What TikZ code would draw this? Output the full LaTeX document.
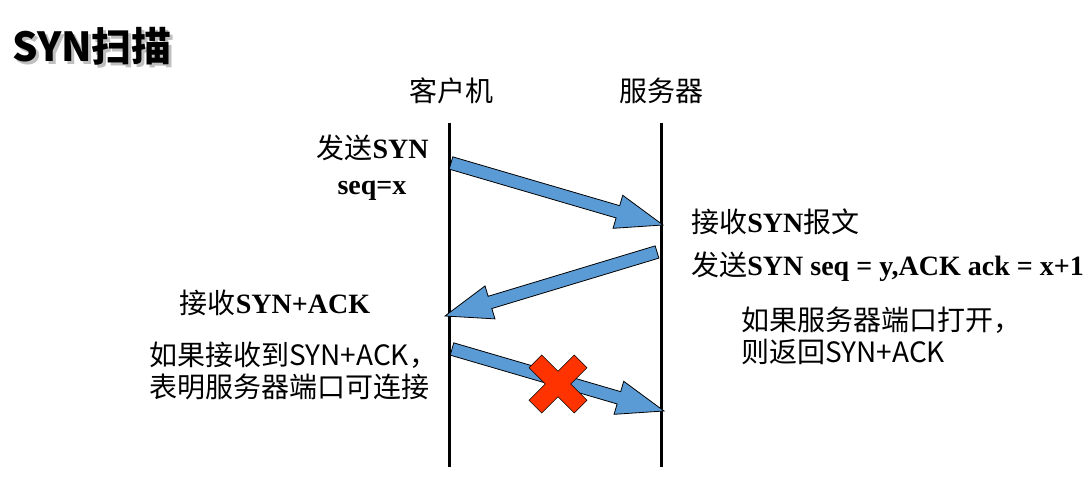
\documentclass[tikz,border=0pt]{standalone}
\usepackage{fontspec}
\setmainfont{Liberation Serif}
\newfontfamily\cjk{Noto Sans CJK SC}
\usetikzlibrary{calc}

\definecolor{msgblue}{HTML}{5B9BD5}
\definecolor{stopred}{HTML}{FF3300}

\tikzset{
  lbl/.style={inner sep=0pt, font=\fontsize{14}{16}\selectfont},
  headline/.style={inner sep=0pt, anchor=west, font=\cjk\bfseries\fontsize{20}{24}\selectfont},
  lifeline/.style={line width=1.5pt},
  msg/.style={draw=black, fill=msgblue, line width=0.4pt, line join=miter},
  xmark/.style={draw=black, fill=stopred, line width=0.3pt, line join=miter}
}

% block arrow from #1 to #2
\newcommand\msgarrow[2]{%
  \coordinate (hb) at ($(#2)!23.5pt!(#1)$);
  \draw[msg] ($(#1)!3.2pt!90:(#2)$) -- ($(hb)!3.2pt!90:(#2)$) -- ($(hb)!8.6pt!90:(#2)$) -- (#2)
    -- ($(hb)!8.6pt!-90:(#2)$) -- ($(hb)!3.2pt!-90:(#2)$) -- ($(#1)!3.2pt!-90:(#2)$) -- cycle;}

\begin{document}
\begin{tikzpicture}[x=0.5pt, y=-0.5pt]
    \useasboundingbox (0,0) rectangle (1087,496);

    \node[headline, text=black!25] at (15,49) {SYN扫描};
    \node[headline] (title) at (12,46) {SYN扫描};

    \node[lbl] (client) at (451,91) {\cjk 客户机};
    \node[lbl] (server) at (661,91) {\cjk 服务器};

    \coordinate (c0) at (449,123);
    \coordinate (c1) at (449,467);
    \coordinate (s0) at (661,123);
    \coordinate (s1) at (661,467);
    \draw[lifeline] (c0) -- (c1);
    \draw[lifeline] (s0) -- (s1);

    \node[lbl, anchor=east] (sendsyn) at (429,148) {{\cjk 发送}\textbf{SYN}};
    \node[lbl] (seqx) at (372,191) {\textbf{seq=x}};
    \node[lbl, anchor=west] (recvsyn) at (691,222) {{\cjk 接收}\textbf{SYN}{\cjk 报文}};
    \node[lbl, anchor=west] (sendack) at (691,267) {{\cjk 发送}\textbf{SYN seq = y,ACK ack = x+1}};
    \node[lbl] (recvack) at (275,303) {{\cjk 接收}\textbf{SYN+ACK}};
    \node[lbl, anchor=west, align=left] (srvnote) at (741,336) {\cjk 如果服务器端口打开，\\\cjk 则返回SYN+ACK};
    \node[lbl, anchor=west, align=left] (clinote) at (149,371) {\cjk 如果接收到SYN+ACK，\\\cjk 表明服务器端口可连接};

    \coordinate (m1a) at (451,163);
    \coordinate (m1b) at (663,225);
    \coordinate (m2a) at (657,252);
    \coordinate (m2b) at (445,316);
    \coordinate (m3a) at (452,349);
    \coordinate (m3b) at (664,411);
    \msgarrow{m1a}{m1b}
    \msgarrow{m2a}{m2b}
    \msgarrow{m3a}{m3b}

    \coordinate (stop) at (558,384);
    \begin{scope}[shift={(stop)}, rotate=45]
        \draw[xmark] (9,32) -- (9,9) -- (32,9) -- (32,-9) -- (9,-9) -- (9,-32) -- (-9,-32)
            -- (-9,-9) -- (-32,-9) -- (-32,9) -- (-9,9) -- (-9,32) -- cycle;
    \end{scope}
\end{tikzpicture}
\end{document}
